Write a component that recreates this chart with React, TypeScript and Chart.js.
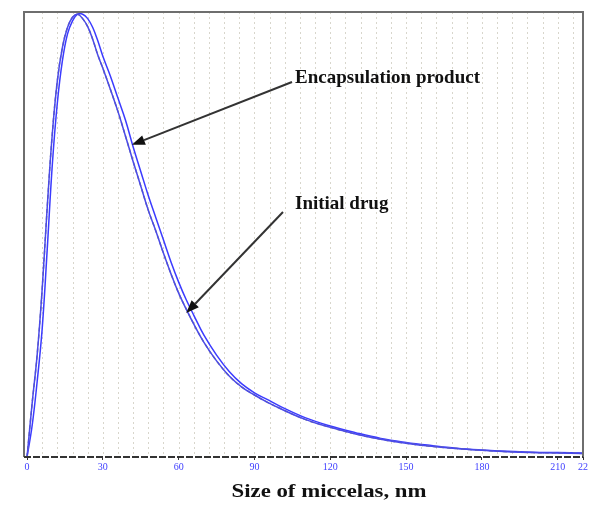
import React, { useEffect, useRef } from "react";
import { Chart, registerables } from "chart.js";

Chart.register(...registerables);

// Size of micelles, nm
const xValues = [0, 2, 4, 6, 8, 10, 12, 14, 16, 18, 20, 22, 24, 26, 28, 30, 33, 36, 39, 42, 45, 48, 51, 54, 57, 60, 63, 66, 70, 75, 80, 85, 90, 95, 100, 110, 120, 130, 140, 150, 160, 170, 180, 190, 200, 210, 220];
// Relative intensity (%)
const encapsulationProduct = [0, 7, 17, 29, 47, 66, 80, 89.5, 95.5, 98.5, 100, 100, 99, 97, 94, 90.5, 86, 81, 76, 70, 64.5, 59, 54, 49, 44, 39.5, 35.5, 32, 27.5, 23, 19.3, 16.5, 14.5, 13, 11.5, 8.9, 7, 5.5, 4.2, 3.3, 2.6, 2.0, 1.6, 1.3, 1.1, 1.0, 0.9];
const initialDrug = [0, 12, 23, 38, 56.5, 73, 85, 92.5, 97, 99.3, 100, 99, 97.2, 94.3, 90.8, 87.8, 83, 78, 72.4, 66.7, 61.2, 55.7, 51, 46, 41.3, 37, 33.4, 30, 25.9, 21.7, 18.3, 15.8, 14, 12.4, 11, 8.5, 6.7, 5.2, 4.0, 3.1, 2.4, 1.9, 1.5, 1.2, 1.0, 0.9, 0.8];

const tickValues = [0, 30, 60, 90, 120, 150, 180, 210, 220];
const tickLabels = ["0", "30", "60", "90", "120", "150", "180", "210", "22"];
const gridStep = 6;

const xTitle = "Size of miccelas, nm";
const labelEncap = "Encapsulation product";
const labelInitial = "Initial drug";

export default function App() {
  const ref = useRef<HTMLCanvasElement | null>(null);

  useEffect(() => {
    if (!ref.current) return;
    const toPts = (arr: number[]) => xValues.map((x, i) => ({ x, y: arr[i] }));

    const decor = {
      id: "decor",
      beforeDatasetsDraw(chart: any) {
        const { ctx, chartArea: a, scales } = chart;
        const xs = scales.x;
        ctx.save();
        ctx.strokeStyle = "#d8d6cc";
        ctx.lineWidth = 1;
        ctx.setLineDash([2, 3]);
        for (let v = gridStep; v < 220; v += gridStep) {
          const px = Math.round(xs.getPixelForValue(v)) + 0.5;
          ctx.beginPath();
          ctx.moveTo(px, a.top);
          ctx.lineTo(px, a.bottom);
          ctx.stroke();
        }
        ctx.restore();
      },
      afterDraw(chart: any) {
        const { ctx, chartArea: a, scales } = chart;
        const xs = scales.x;
        const ys = scales.y;
        ctx.save();
        // frame
        ctx.strokeStyle = "#6e6e6e";
        ctx.lineWidth = 2;
        ctx.beginPath();
        ctx.moveTo(a.left, a.bottom);
        ctx.lineTo(a.left, a.top);
        ctx.lineTo(a.right, a.top);
        ctx.lineTo(a.right, a.bottom);
        ctx.stroke();
        // bottom dashed axis
        ctx.strokeStyle = "#333";
        ctx.lineWidth = 2;
        ctx.setLineDash([7, 2]);
        ctx.beginPath();
        ctx.moveTo(a.left, a.bottom);
        ctx.lineTo(a.right, a.bottom);
        ctx.stroke();
        ctx.setLineDash([]);

        // annotations
        ctx.fillStyle = "#111";
        ctx.font = "bold 19px 'Liberation Serif', 'DejaVu Serif', serif";
        ctx.textBaseline = "middle";
        ctx.textAlign = "left";
        ctx.fillText(labelEncap, 295, 78);
        ctx.fillText(labelInitial, 295, 204);

        const arrow = (x0: number, y0: number, x1: number, y1: number) => {
          ctx.strokeStyle = "#333";
          ctx.fillStyle = "#111";
          ctx.lineWidth = 2;
          const ang = Math.atan2(y1 - y0, x1 - x0);
          const hl = 13;
          const bx = x1 - hl * Math.cos(ang);
          const by = y1 - hl * Math.sin(ang);
          ctx.beginPath();
          ctx.moveTo(x0, y0);
          ctx.lineTo(bx, by);
          ctx.stroke();
          ctx.beginPath();
          ctx.moveTo(x1, y1);
          ctx.lineTo(bx + 5 * Math.sin(ang), by - 5 * Math.cos(ang));
          ctx.lineTo(bx - 5 * Math.sin(ang), by + 5 * Math.cos(ang));
          ctx.closePath();
          ctx.fill();
        };
        arrow(292, 82, xs.getPixelForValue(41.5), ys.getPixelForValue(70.5));
        arrow(283, 212, xs.getPixelForValue(63), ys.getPixelForValue(32.5));

        // x title
        ctx.font = "bold 19px 'Liberation Serif', 'DejaVu Serif', serif";
        ctx.textAlign = "center";
        ctx.fillStyle = "#111";
        ctx.translate(329, 492);
        ctx.scale(1.2, 1);
        ctx.fillText(xTitle, 0, 0);
        ctx.restore();
      },
    };

    const chart = new Chart(ref.current, {
      type: "line",
      data: {
        datasets: [
          {
            label: labelInitial,
            data: toPts(initialDrug),
            borderColor: "#4a4ae8",
            borderWidth: 1.5,
            pointRadius: 0,
            tension: 0.4,
          },
          {
            label: labelInitial + " (dashed)",
            data: toPts(initialDrug),
            borderColor: "#8a8a8a",
            borderWidth: 1.5,
            borderDash: [4, 3],
            pointRadius: 0,
            tension: 0.4,
          },
          {
            label: labelEncap,
            data: toPts(encapsulationProduct),
            borderColor: "#3b3bff",
            borderWidth: 1.5,
            pointRadius: 0,
            tension: 0.4,
          },
        ],
      },
      options: {
        responsive: false,
        animation: false,
        events: [],
        layout: { padding: { left: 24, top: 12, right: 5, bottom: 0 } },
        plugins: { legend: { display: false }, tooltip: { enabled: false } },
        scales: {
          x: {
            type: "linear",
            min: -1.2,
            max: 220,
            afterBuildTicks: (scale: any) => {
              scale.ticks = tickValues.map((v) => ({ value: v }));
            },
            afterFit: (scale: any) => {
              scale.height = 49;
            },
            ticks: {
              autoSkip: false,
              maxRotation: 0,
              padding: 1,
              color: "#4040ff",
              font: { size: 10, family: "'Liberation Serif', serif" },
              callback: (v: any) => {
                const i = tickValues.indexOf(Number(v));
                return i >= 0 ? tickLabels[i] : "";
              },
            },
            grid: { drawOnChartArea: false, tickLength: 3, color: "#333" },
            border: { display: false },
          },
          y: {
            display: false,
            min: 0,
            max: 100.5,
          },
        },
      },
      plugins: [decor],
    } as any);
    return () => chart.destroy();
  }, []);

  return (
    <div style={{ position: "fixed", left: 0, top: 0, width: 589, height: 506, background: "#fff" }}>
      <canvas ref={ref} width={589} height={506} style={{ display: "block" }} />
    </div>
  );
}
